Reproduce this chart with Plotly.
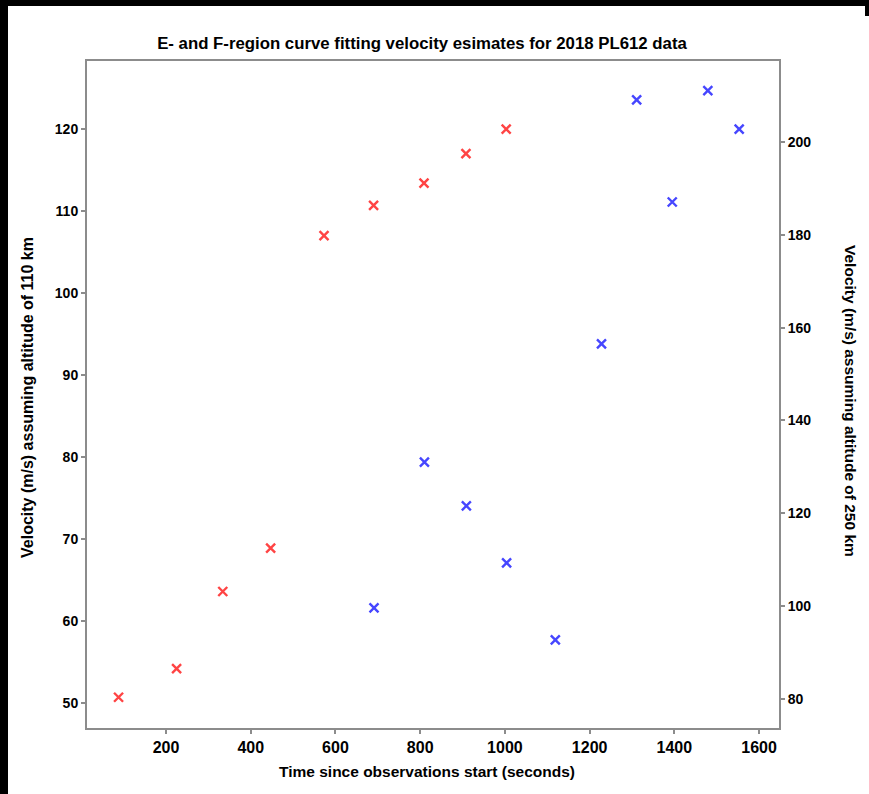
import plotly.graph_objects as go

# E-region (left axis, 110 km) estimates
e_time = [88, 225, 334, 447, 573, 690, 809, 908, 1003]
e_vel = [50.7, 54.2, 63.6, 68.9, 107.0, 110.7, 113.4, 117.0, 120.0]

# F-region (right axis, 250 km) estimates
f_time = [691, 810, 909, 1004, 1119, 1228, 1311, 1395, 1479, 1553]
f_vel = [99.6, 131.0, 121.6, 109.3, 92.7, 156.5, 209.1, 187.1, 211.1, 202.8]

x_ticks = [200, 400, 600, 800, 1000, 1200, 1400, 1600]
yl_ticks = [50, 60, 70, 80, 90, 100, 110, 120]
yr_ticks = [80, 100, 120, 140, 160, 180, 200]

title = "E- and F-region curve fitting velocity esimates for 2018 PL612 data"
x_title = "Time since observations start (seconds)"
yl_title = "Velocity (m/s) assuming altitude of 110 km"
yr_title = "Velocity (m/s) assuming altitude of 250 km"

W, H = 869, 794
ML, MR, MT, MB = 87, 90, 61, 66
PW, PH = W - ML - MR, H - MT - MB

def px(xp):
    return (xp - ML) / PW

def py(yp):
    return 1 - (yp - MT) / PH

FONT = "Liberation Sans, Arial, sans-serif"
AX = "#8c8c8c"

fig = go.Figure()
fig.add_trace(go.Scatter(
    x=e_time, y=e_vel, mode="markers", yaxis="y",
    marker=dict(symbol="x-thin", size=9, color="#ff4444",
                line=dict(width=2.4, color="#ff4444")),
    showlegend=False))
fig.add_trace(go.Scatter(
    x=f_time, y=f_vel, mode="markers", yaxis="y2",
    marker=dict(symbol="x-thin", size=9, color="#4646ff",
                line=dict(width=2.4, color="#4646ff")),
    showlegend=False))

fig.update_layout(
    width=W, height=H,
    margin=dict(l=ML, r=MR, t=MT, b=MB, pad=0),
    paper_bgcolor="white", plot_bgcolor="white",
    font=dict(family=FONT, color="black"),
    title=dict(text="<b>" + title + "</b>", x=px(422), xref="paper", xanchor="center",
               y=1 - 43 / H, yanchor="middle", font=dict(size=16.8, family=FONT)),
    xaxis=dict(range=[13.5, 1647], tickvals=x_ticks, ticktext=[f"<b>{v}</b>" for v in x_ticks],
               showgrid=False, zeroline=False, showline=True, linecolor=AX, linewidth=2,
               mirror=True, ticks="outside", ticklen=4, tickcolor=AX, tickwidth=1.5,
               tickfont=dict(size=16, family=FONT)),
    yaxis=dict(range=[46.95, 128.3], tickvals=yl_ticks, ticktext=[f"<b>{v}</b>" for v in yl_ticks],
               showgrid=False, zeroline=False, showline=True, linecolor=AX, linewidth=2,
               ticks="outside", ticklen=4, tickcolor=AX, tickwidth=1.5,
               tickfont=dict(size=14, family=FONT)),
    yaxis2=dict(range=[73.7, 217.5], tickvals=yr_ticks, ticktext=[f"<b>{v}</b>" for v in yr_ticks],
                overlaying="y", side="right",
                showgrid=False, zeroline=False, showline=True, linecolor=AX, linewidth=2,
                ticks="outside", ticklen=4, tickcolor=AX, tickwidth=1.5,
                tickfont=dict(size=14, family=FONT)),
    annotations=[
        dict(text="<b>" + x_title + "</b>", xref="paper", yref="paper",
             x=px(427), y=py(771), showarrow=False, xanchor="center", yanchor="middle",
             font=dict(size=15.5, family=FONT)),
        dict(text="<b>" + yl_title + "</b>", xref="paper", yref="paper",
             x=px(27), y=py(398), textangle=-90, showarrow=False,
             xanchor="center", yanchor="middle", font=dict(size=16, family=FONT)),
        dict(text="<b>" + yr_title + "</b>", xref="paper", yref="paper",
             x=px(851), y=py(401), textangle=90, showarrow=False,
             xanchor="center", yanchor="middle", font=dict(size=15.5, family=FONT)),
    ],
    shapes=[
        dict(type="rect", xref="paper", yref="paper", x0=px(0), x1=px(W), y0=py(0), y1=py(6),
             fillcolor="black", line=dict(width=0), layer="above"),
        dict(type="rect", xref="paper", yref="paper", x0=px(0), x1=px(8), y0=py(0), y1=py(H),
             fillcolor="black", line=dict(width=0), layer="above"),
        dict(type="rect", xref="paper", yref="paper", x0=px(W - 4), x1=px(W), y0=py(0), y1=py(16),
             fillcolor="black", line=dict(width=0), layer="above"),
    ],
)

fig.write_html("out.html")
